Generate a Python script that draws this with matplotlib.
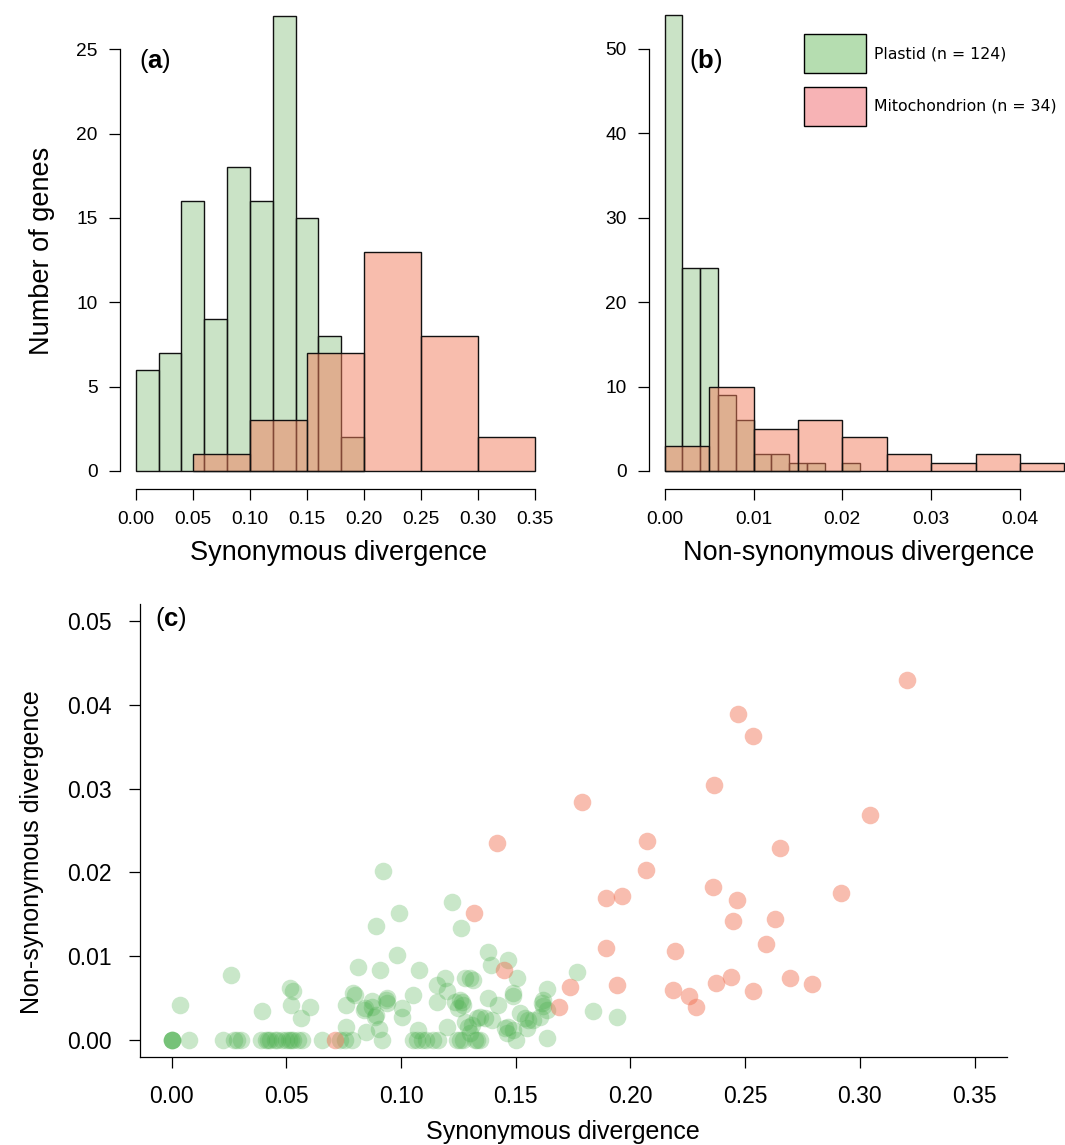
import numpy as np
import matplotlib
matplotlib.use('Agg')
import matplotlib.pyplot as plt
from matplotlib.patches import Patch

plt.rcParams['font.family'] = ['Liberation Sans', 'DejaVu Sans']
plt.rcParams['mathtext.fontset'] = 'custom'
plt.rcParams['mathtext.rm'] = 'Liberation Sans'
plt.rcParams['mathtext.bf'] = 'Liberation Sans:bold'

# ---- data: per-gene divergence (synonymous, non-synonymous) ----
plastid_ds = [0.0, 0.0, 0.0, 0.0, 0.0075, 0.0036,
              0.0259, 0.0225, 0.0270, 0.0285, 0.0300, 0.0388, 0.0395,
              0.041, 0.042, 0.043, 0.045, 0.046, 0.048, 0.050, 0.051, 0.052, 0.053, 0.055, 0.057,
              0.0516, 0.0530, 0.0519, 0.0562,
              0.0605, 0.0758, 0.0792, 0.0799, 0.0760, 0.0654, 0.0733, 0.0755, 0.0785,
              0.0814, 0.0908, 0.0984, 0.0922, 0.0889, 0.0992, 0.0843, 0.0872, 0.0886, 0.0937,
              0.0937, 0.0846, 0.0905, 0.0915, 0.0840, 0.0875, 0.0890, 0.0935,
              0.1004, 0.1004, 0.1053, 0.1078, 0.1155, 0.1191, 0.1199, 0.1155, 0.1199, 0.1075,
              0.105, 0.107, 0.109, 0.111, 0.114, 0.116,
              0.1222, 0.1260, 0.1380, 0.1391, 0.1279, 0.1300, 0.1315, 0.1257, 0.1270, 0.1265,
              0.1235, 0.1250, 0.1380, 0.1280, 0.1290, 0.1310, 0.1330, 0.1345, 0.1365, 0.1395,
              0.1300, 0.1242, 0.1257, 0.1270, 0.1320, 0.1330, 0.1345,
              0.1467, 0.1504, 0.1486, 0.1486, 0.1424, 0.1453, 0.1467, 0.1489, 0.1500, 0.1518,
              0.1540, 0.1555, 0.1576, 0.1460, 0.1547,
              0.1605, 0.1613, 0.1620, 0.1620, 0.1635, 0.1635, 0.1637, 0.1765,
              0.1835, 0.1940]
plastid_dn = [0.0, 0.0, 0.0, 0.0, 0.0, 0.0042,
              0.0078, 0.0, 0.0, 0.0, 0.0, 0.0, 0.0035,
              0.0, 0.0, 0.0, 0.0, 0.0, 0.0, 0.0, 0.0, 0.0, 0.0, 0.0, 0.0,
              0.0062, 0.0059, 0.0042, 0.0026,
              0.0039, 0.0042, 0.0056, 0.0054, 0.0015, 0.0, 0.0, 0.0, 0.0,
              0.0087, 0.0084, 0.0101, 0.0202, 0.0136, 0.0151, 0.0038, 0.0046, 0.0028, 0.0050,
              0.0044, 0.0009, 0.0013, 0.0, 0.0036, 0.0039, 0.0030, 0.0048,
              0.0038, 0.0028, 0.0054, 0.0084, 0.0066, 0.0074, 0.0058, 0.0045, 0.0016, 0.0012,
              0.0, 0.0, 0.0, 0.0, 0.0, 0.0,
              0.0165, 0.0134, 0.0105, 0.0089, 0.0074, 0.0074, 0.0072, 0.0048, 0.0042, 0.0045,
              0.0045, 0.0038, 0.0050, 0.0022, 0.0016, 0.0018, 0.0026, 0.0028, 0.0026, 0.0024,
              0.0008, 0.0, 0.0, 0.0, 0.0, 0.0, 0.0,
              0.0095, 0.0074, 0.0056, 0.0052, 0.0042, 0.0014, 0.0016, 0.0012, 0.0, 0.0032,
              0.0026, 0.0024, 0.0024, 0.0008, 0.0014,
              0.0028, 0.0044, 0.0048, 0.0041, 0.0036, 0.0061, 0.0003, 0.0081,
              0.0035, 0.0028]

mito_ds = [0.3204, 0.2467, 0.2533, 0.2365, 0.1787, 0.3044, 0.1419, 0.2072, 0.2652, 0.2068,
           0.2360, 0.2916, 0.1892, 0.1963, 0.2464, 0.1318, 0.2445, 0.2630, 0.2589, 0.1892,
           0.2193, 0.1449, 0.1735, 0.1940, 0.2187, 0.2255, 0.2284, 0.2373, 0.2438, 0.2535,
           0.2695, 0.2790, 0.1688, 0.0712]
mito_dn = [0.0429, 0.0389, 0.0363, 0.0304, 0.0284, 0.0268, 0.0235, 0.0237, 0.0229, 0.0203,
           0.0183, 0.0176, 0.0169, 0.0172, 0.0167, 0.0151, 0.0142, 0.0145, 0.0114, 0.0110,
           0.0106, 0.0084, 0.0063, 0.0066, 0.0060, 0.0053, 0.0040, 0.0068, 0.0075, 0.0059,
           0.0074, 0.0067, 0.0040, 0.0]

labels = ['Plastid (n = 124)', 'Mitochondrion (n = 34)']

# ---- layout helpers (pixels of a 1065 x 1145 canvas) ----
W, H = 1065, 1145


def box(l, t, r, b):
    return [l / W, 1 - b / H, (r - l) / W, (b - t) / H]


def fx(px):
    return px / W


def fy(py):
    return 1 - py / H


green_bar = (0.59, 0.79, 0.56, 0.5)
pink_bar = (0.95, 0.49, 0.36, 0.5)
green_pt = (0.30, 0.69, 0.31, 0.3)
red_pt = (0.94, 0.43, 0.31, 0.45)
edge = '#111111'

tick_kw = dict(direction='out', length=7.9, width=0.9, colors='black')

fig = plt.figure(figsize=(10.65, 11.45), dpi=100)

# ---- (a) synonymous divergence histogram ----
ax_a = fig.add_axes(box(119.7, 0, 551.3, 489.2))
ax_a.hist(plastid_ds, bins=np.linspace(0, 0.2, 11), facecolor=green_bar, edgecolor=edge, linewidth=1.0)
ax_a.hist(mito_ds, bins=np.linspace(0.05, 0.35, 7), facecolor=pink_bar, edgecolor=edge, linewidth=1.0)
ax_a.set_xlim(-0.014, 0.364)
ax_a.set_ylim(-1.08, 27.92)
ax_a.set_xticks(np.arange(0, 0.351, 0.05))
ax_a.set_xticklabels(['%.2f' % v for v in np.arange(0, 0.351, 0.05)])
ax_a.set_yticks(range(0, 26, 5))
ax_a.spines['left'].set_bounds(0, 25)
ax_a.spines['bottom'].set_bounds(0, 0.35)
ax_a.set_ylabel('Number of genes', fontsize=19.5, va='center')
ax_a.yaxis.set_label_coords(fx(42.5), fy(251), transform=fig.transFigure)
ax_a.set_xlabel('Synonymous divergence', fontsize=19.5, va='center')
ax_a.xaxis.set_label_coords(fx(339), fy(553), transform=fig.transFigure)
fig.text(fx(155), fy(61), r'($\mathbf{a}$)', fontsize=18.5, ha='center', va='center')

# ---- (b) non-synonymous divergence histogram ----
ax_b = fig.add_axes(box(648.7, 0, 1080.4, 489.2))
ax_b.hist(plastid_dn, bins=np.linspace(0, 0.022, 12), facecolor=green_bar, edgecolor=edge, linewidth=1.0)
ax_b.hist(mito_dn, bins=np.linspace(0, 0.045, 10), facecolor=pink_bar, edgecolor=edge, linewidth=1.0)
ax_b.set_xlim(-0.0018, 0.0468)
ax_b.set_ylim(-2.16, 55.8)
ax_b.set_xticks(np.arange(0, 0.041, 0.01))
ax_b.set_xticklabels(['%.2f' % v for v in np.arange(0, 0.041, 0.01)])
ax_b.set_yticks(range(0, 51, 10))
ax_b.spines['left'].set_bounds(0, 50)
ax_b.spines['bottom'].set_bounds(0, 0.04)
ax_b.set_xlabel('Non-synonymous divergence', fontsize=19.5, va='center')
ax_b.xaxis.set_label_coords(fx(859), fy(553), transform=fig.transFigure)
fig.text(fx(706), fy(61), r'($\mathbf{b}$)', fontsize=18.5, ha='center', va='center')

for ax in (ax_a, ax_b):
    for s in ('top', 'right'):
        ax.spines[s].set_visible(False)
    for s in ('left', 'bottom'):
        ax.spines[s].set_linewidth(0.9)
    ax.tick_params(labelsize=13.8, pad=8.0, **tick_kw)

fs_px = 11.3 * 100 / 72
handles = [Patch(facecolor='#b5ddb0', edgecolor='black', linewidth=1.0),
           Patch(facecolor='#f7b3b5', edgecolor='black', linewidth=1.0)]
fig.legend(handles, labels, loc='upper left', bbox_to_anchor=(fx(803.7), fy(34.3)),
           bbox_transform=fig.transFigure, frameon=False, borderpad=0, borderaxespad=0,
           prop={'family': 'DejaVu Sans', 'size': 11.3},
           handlelength=62 / fs_px, handleheight=3.46, handletextpad=0.55,
           labelspacing=13.4 / fs_px)

# ---- (c) scatter ----
ax_c = fig.add_axes(box(139.6, 604.2, 1006.7, 1056.8))
ax_c.scatter(plastid_ds, plastid_dn, s=160, color=green_pt, linewidths=0, zorder=2)
ax_c.scatter(mito_ds, mito_dn, s=160, color=red_pt, linewidths=0, zorder=3)
ax_c.set_xlim(-0.014, 0.364)
ax_c.set_ylim(-0.002, 0.052)
ax_c.set_xticks(np.arange(0, 0.351, 0.05))
ax_c.set_xticklabels(['%.2f' % v for v in np.arange(0, 0.351, 0.05)])
ax_c.set_yticks(np.arange(0, 0.051, 0.01))
ax_c.set_yticklabels(['%.2f' % v for v in np.arange(0, 0.051, 0.01)])
for s in ('top', 'right'):
    ax_c.spines[s].set_visible(False)
for s in ('left', 'bottom'):
    ax_c.spines[s].set_linewidth(0.9)
ax_c.tick_params(labelsize=16.5, pad=12.5, **tick_kw)
ax_c.set_xlabel('Synonymous divergence', fontsize=18, va='center')
ax_c.xaxis.set_label_coords(fx(563), fy(1132), transform=fig.transFigure)
ax_c.set_ylabel('Non-synonymous divergence', fontsize=18, va='center')
ax_c.yaxis.set_label_coords(fx(32), fy(852), transform=fig.transFigure)
fig.text(fx(171), fy(619), r'($\mathbf{c}$)', fontsize=18.5, ha='center', va='center')

fig.savefig('out.png', dpi=100)
